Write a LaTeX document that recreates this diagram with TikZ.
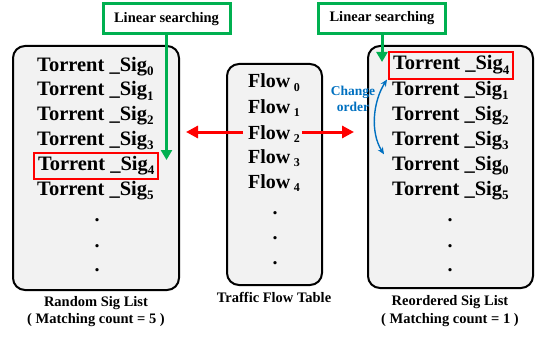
\documentclass[tikz,border=0pt]{standalone}
\usepackage{fontspec}
\setmainfont{Liberation Serif}
\usepackage{xcolor}
\usetikzlibrary{arrows.meta}
\definecolor{hitgreen}{RGB}{0,176,80}
\definecolor{hitred}{RGB}{255,0,0}
\definecolor{swapblue}{RGB}{0,112,192}
\definecolor{listgray}{RGB}{242,242,242}
\newcommand{\sidx}[1]{\raisebox{-0.22em}{\fontsize{13}{13}\selectfont #1}}
\newcommand{\fidx}[1]{\,\raisebox{-0.15em}{\fontsize{12}{12}\selectfont #1}}

\begin{document}
\begin{tikzpicture}[x=1pt,y=-1pt,
  listbox/.style={draw, line width=2pt, rounded corners=12pt, fill=listgray, inner sep=0pt},
  sigentry/.style={anchor=base west, font=\fontsize{20.5}{24}\selectfont\bfseries,
    text height=14pt, text depth=5pt, inner xsep=4pt, inner ysep=3.5pt},
  hitentry/.style={sigentry, draw=hitred, line width=2pt},
  flowentry/.style={anchor=base west, font=\fontsize{20}{24}\selectfont\bfseries,
    text height=14pt, text depth=0pt, inner sep=0pt},
  dotmark/.style={font=\fontsize{20}{24}\selectfont\bfseries, inner sep=0pt},
  searchbox/.style={draw=hitgreen, line width=3pt, minimum width=127pt, minimum height=30pt,
    font=\fontsize{14.5}{17}\selectfont\bfseries, inner sep=0pt},
  caption/.style={anchor=base, font=\fontsize{14.5}{17}\selectfont\bfseries, inner sep=0pt},
  greenarrow/.style={draw=hitgreen, line width=3pt, -{Triangle[width=11pt,length=10pt]}},
  redarrow/.style={draw=hitred, line width=3pt, -{Triangle[width=12pt,length=12pt]}},
  bluearrow/.style={draw=swapblue, line width=1.4pt, {Stealth[length=7pt,width=6pt]}-{Stealth[length=7pt,width=6pt]}}
  ]
  \useasboundingbox (0,0) rectangle (535,337);

  % the three tables
  \node[listbox, minimum width=166pt, minimum height=244pt] (randlist) at (96,168) {};
  \node[listbox, minimum width=95pt, minimum height=221pt] (flowtable) at (274.5,174.5) {};
  \node[listbox, minimum width=165pt, minimum height=242pt] (reordlist) at (450.5,167) {};

  % random order
  \node[sigentry] (sig0l) at (33,71) {Torrent \_Sig\sidx{0}};
  \node[sigentry] (sig1l) at (33,95.5) {Torrent \_Sig\sidx{1}};
  \node[sigentry] (sig2l) at (33,120) {Torrent \_Sig\sidx{2}};
  \node[sigentry] (sig3l) at (33,145) {Torrent \_Sig\sidx{3}};
  \node[hitentry] (sig4l) at (33,170) {Torrent \_Sig\sidx{4}};
  \node[sigentry] (sig5l) at (33,195) {Torrent \_Sig\sidx{5}};
  \node[dotmark] (dot1l) at (97,220) {.};
  \node[dotmark] (dot2l) at (97,246) {.};
  \node[dotmark] (dot3l) at (97,270) {.};

  % flows
  \node[flowentry] (flow0) at (248,88) {Flow\fidx{0}};
  \node[flowentry] (flow1) at (248,113) {Flow\fidx{1}};
  \node[flowentry] (flow2) at (248,139) {Flow\fidx{2}};
  \node[flowentry] (flow3) at (248,163) {Flow\fidx{3}};
  \node[flowentry] (flow4) at (248,188) {Flow\fidx{4}};
  \node[dotmark] (dot1m) at (275,213) {.};
  \node[dotmark] (dot2m) at (275,238) {.};
  \node[dotmark] (dot3m) at (275,263) {.};

  % reordered
  \node[hitentry] (sig4r) at (388,70) {Torrent \_Sig\sidx{4}};
  \node[sigentry] (sig1r) at (388,95) {Torrent \_Sig\sidx{1}};
  \node[sigentry] (sig2r) at (388,120) {Torrent \_Sig\sidx{2}};
  \node[sigentry] (sig3r) at (388,145) {Torrent \_Sig\sidx{3}};
  \node[sigentry] (sig0r) at (388,170) {Torrent \_Sig\sidx{0}};
  \node[sigentry] (sig5r) at (388,195) {Torrent \_Sig\sidx{5}};
  \node[dotmark] (dot1r) at (450,220) {.};
  \node[dotmark] (dot2r) at (450,246) {.};
  \node[dotmark] (dot3r) at (450,270) {.};

  % search
  \node[searchbox] (search1) at (166.5,19) {Linear searching};
  \node[searchbox] (search2) at (382,18.5) {Linear searching};
  \coordinate (hit1) at (166.5,160);
  \coordinate (hit2) at (382,62);
  \draw[greenarrow] (search1.south) -- (hit1);
  \draw[greenarrow] (search2.south) -- (hit2);

  \draw[redarrow] ([xshift=-5pt]flow2.west) -- ([xshift=6pt]flow2.west -| randlist.east);
  \draw[redarrow] ([xshift=2pt]flow2.east) -- ([xshift=-13pt]flow2.east -| reordlist.west);

  \node[align=center, text=swapblue, font=\fontsize{13.5}{16}\selectfont\bfseries, inner sep=0pt] (swap) at (353,99) {Change\\order};
  \draw[bluearrow] ([xshift=-1pt]sig4r.south west) .. controls +(-14,22) and +(-14,-22) .. ([xshift=-4pt,yshift=-2pt]sig0r.north west);

  % captions
  \node[caption] (randcap) at (96,306) {Random Sig List};
  \node[caption] (randcnt) at (96,323) {( Matching count = 5 )};
  \node[caption] (flowcap) at (274,302) {Traffic Flow Table};
  \node[caption] (reordcap) at (450,305) {Reordered Sig List};
  \node[caption] (reordcnt) at (450,323) {( Matching count = 1 )};
\end{tikzpicture}
\end{document}
